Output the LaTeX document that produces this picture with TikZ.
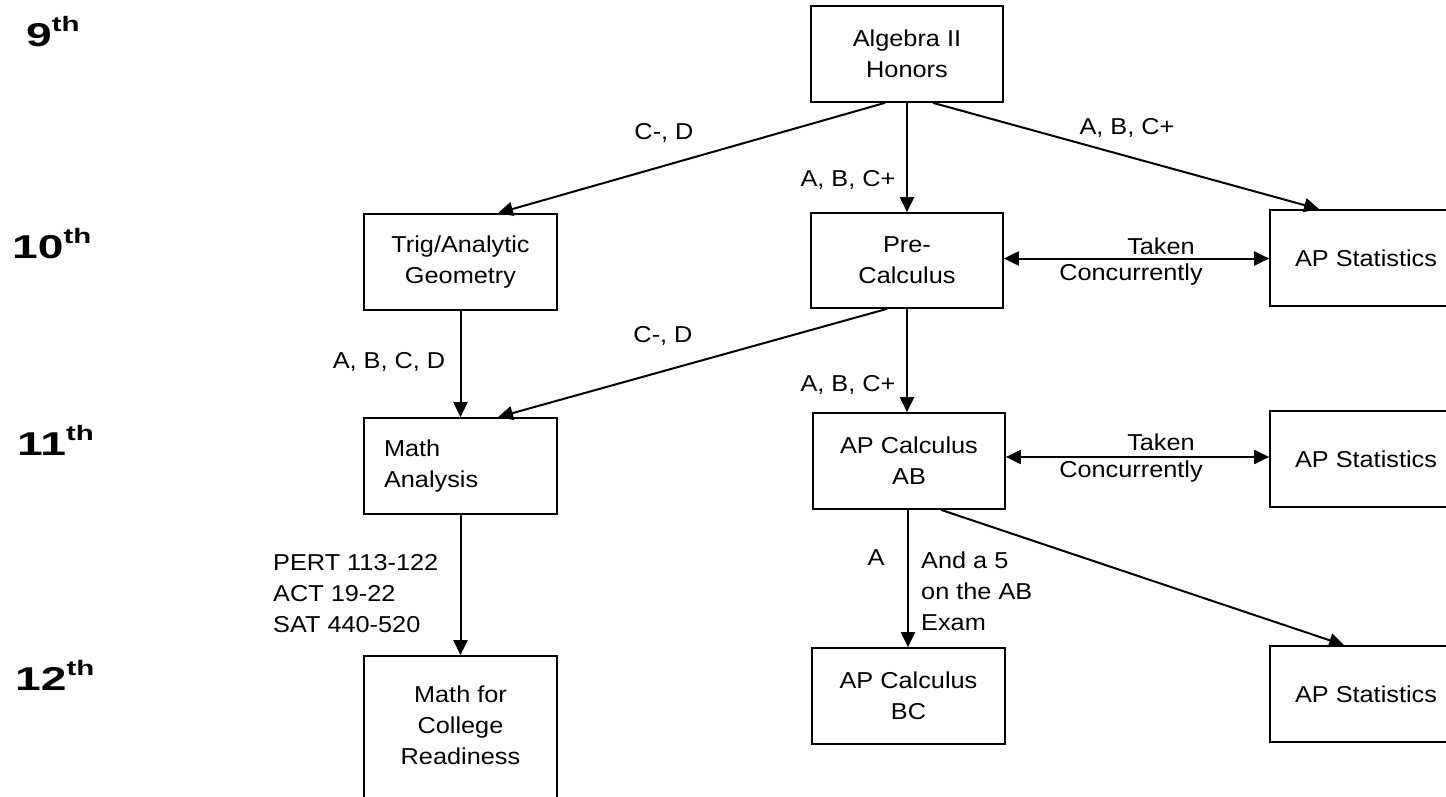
\documentclass[tikz,border=0pt]{standalone}
\usepackage{fontspec}
\setmainfont{Liberation Sans}[FakeStretch=1.1]
\newfontfamily\gradefont{Liberation Sans}[FakeStretch=1.4]
\usetikzlibrary{arrows.meta}
\tikzset{
  box/.style={draw, line width=1.7pt, minimum width=192pt, minimum height=96pt, inner sep=0pt, align=center, font=\fontsize{23}{31}\selectfont},
  lbl/.style={inner sep=0pt, font=\fontsize{23}{31}\selectfont},
  grade/.style={inner sep=0pt, anchor=base west, font=\gradefont\bfseries\fontsize{33}{36}\selectfont},
  arr/.style={line width=2pt, -{Triangle[length=15pt,width=14pt]}},
  darr/.style={line width=2pt, {Triangle[length=15pt,width=14pt]}-{Triangle[length=15pt,width=14pt]}}
}
\newcommand{\sth}{\raisebox{15pt}{\fontsize{21}{24}\selectfont th}}
\begin{document}
\begin{tikzpicture}[x=1pt,y=-1pt]
\useasboundingbox (0,0) rectangle (1446,797);
\clip (0,0) rectangle (1446,797);
% grade labels
\node[grade] (g9) at (26,47) {9\sth};
\node[grade] (g10) at (12,258) {10\sth};
\node[grade] (g11) at (17,455) {11\sth};
\node[grade] (g12) at (15,690) {12\sth};
% boxes
\node[box] (alg) at (907,54) {Algebra II\\Honors};
\node[box, minimum width=193pt] (trig) at (460.5,262) {Trig/Analytic\\Geometry};
\node[box, minimum width=193pt, text width=153pt, align=left, inner xsep=20pt] (mathan) at (460.5,466) {Math\\Analysis};
\node[box, minimum width=193pt, minimum height=154pt, text depth=16pt] (mcr) at (460.5,733) {Math for\\College\\Readiness};
\node[box, minimum height=95pt] (pre) at (907,260.5) {Pre-\\Calculus};
\node[box] (ab) at (909,461) {AP Calculus\\AB};
\node[box, minimum width=193pt] (bc) at (908.5,696) {AP Calculus\\BC};
\node[box] (st1) at (1366,258) {AP Statistics};
\node[box] (st2) at (1366,459) {AP Statistics};
\node[box] (st3) at (1366,694) {AP Statistics};
% connectors
\draw[arr] ([xshift=-22pt]alg.south) -- ([xshift=37.5pt]trig.north);
\draw[arr] (alg.south) -- (alg.south |- pre.north);
\draw[arr] ([xshift=26pt]alg.south) -- ([xshift=50pt]st1.north west);
\draw[darr] ([yshift=2pt]pre.east) -- ([yshift=2pt]pre.east -| st1.west);
\draw[arr] ([xshift=-20pt]pre.south) -- ([xshift=37.5pt]mathan.north);
\draw[arr] (trig.south) -- (mathan.north);
\draw[arr] (pre.south) -- (pre.south |- ab.north);
\draw[darr] ([yshift=4pt]ab.east) -- ([yshift=4pt]ab.east -| st2.west);
\draw[arr] ([xshift=-1pt]ab.south) -- ([xshift=-1pt]ab.south |- bc.north);
\draw[arr] ([xshift=32pt]ab.south) -- ([xshift=75pt]st3.north west);
\draw[arr] (mathan.south) -- (mcr.north);
% labels
\node[lbl] (l1) at (664,133) {C-, D};
\node[lbl] (l2) at (848,180) {A, B, C+};
\node[lbl] (l3) at (1127,128) {A, B, C+};
\node[lbl] (l4a) at (1161,246) {Taken};
\node[lbl] (l4b) at (1131,275) {Concurrently};
\node[lbl] (l5) at (663,336) {C-, D};
\node[lbl] (l6) at (389,362) {A, B, C, D};
\node[lbl] (l7) at (848,385) {A, B, C+};
\node[lbl] (l8a) at (1161,442) {Taken};
\node[lbl] (l8b) at (1131,472) {Concurrently};
\node[lbl, anchor=base] (l9) at (876,565) {A};
\node[lbl, anchor=base west, align=left] (l10) at (921,630) {And a 5\\on the AB\\Exam};
\node[lbl, anchor=base west, align=left] (l11) at (273,632) {PERT 113-122\\ACT 19-22\\SAT 440-520};
\end{tikzpicture}
\end{document}
